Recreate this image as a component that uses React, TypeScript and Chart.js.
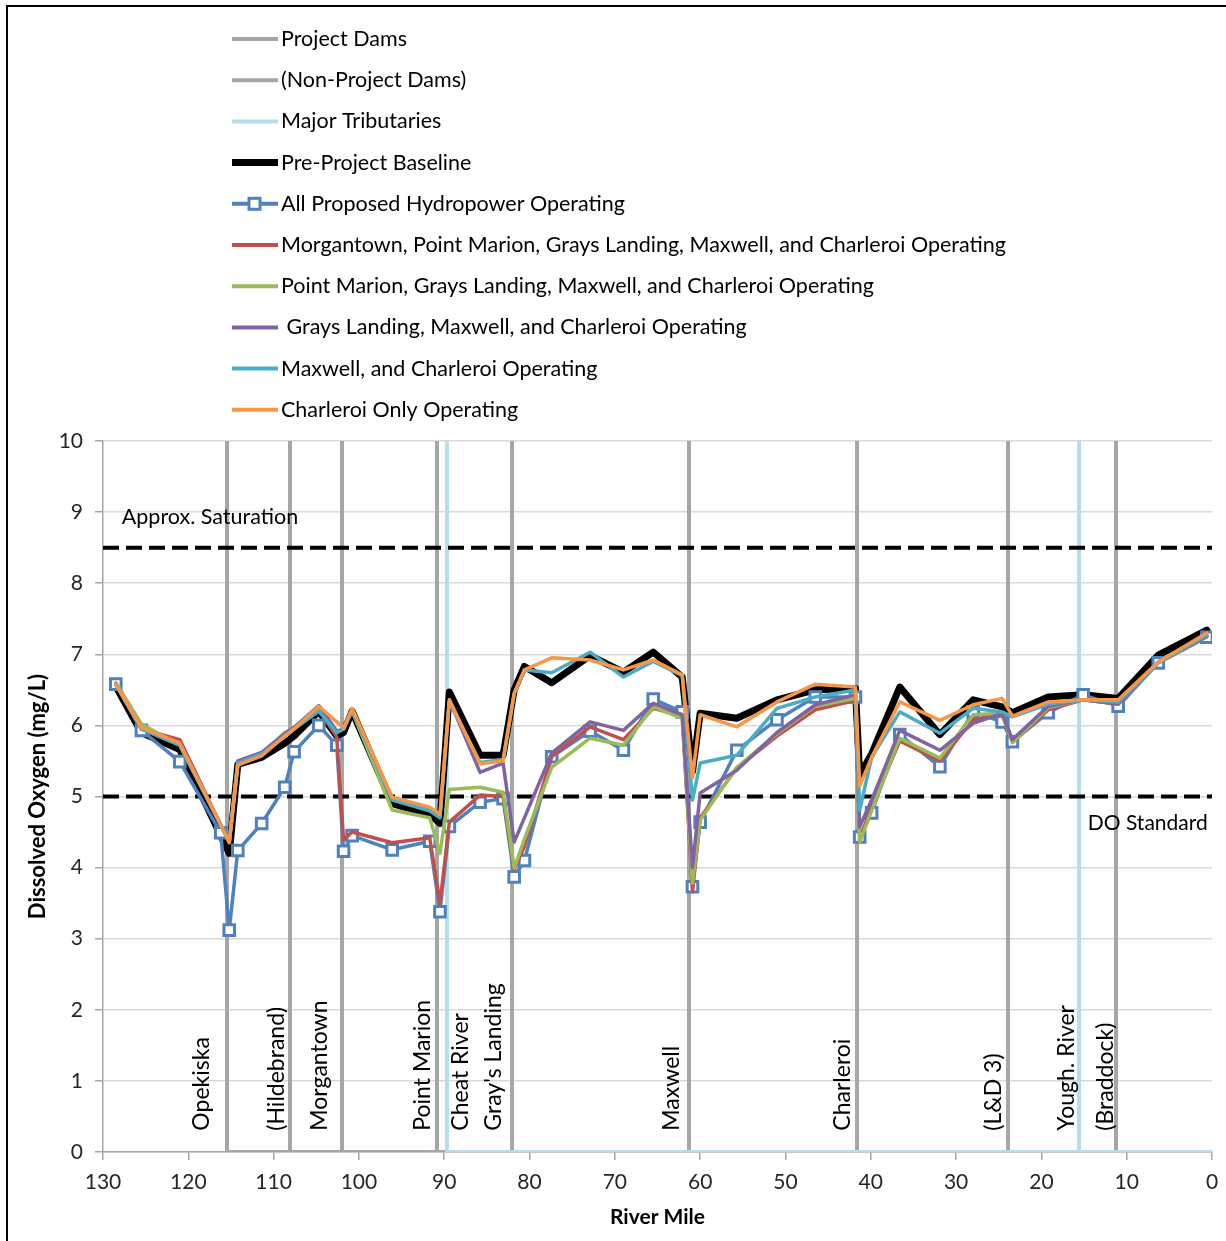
import React, { useEffect, useRef } from "react";
import { Chart, registerables } from "chart.js";

Chart.register(...registerables);

// ---------- DATA ----------
const riverMile = [128.5, 125.5, 121.0, 116.2, 115.2, 114.2, 111.4, 108.7, 107.6, 104.7, 102.6, 101.8, 100.8, 96.1, 91.7, 90.5, 89.4, 85.8, 83.1, 81.8, 80.6, 77.4, 72.9, 69.0, 65.5, 62.1, 60.9, 60.0, 55.7, 51.0, 46.5, 41.8, 41.3, 39.9, 36.6, 31.9, 28.0, 24.6, 23.4, 19.2, 15.1, 11.0, 6.3, 0.6];

const baseline = [6.55, 5.9, 5.66, 4.45, 4.2, 5.45, 5.55, 5.75, 5.85, 6.2, 5.85, 5.9, 6.2, 4.9, 4.75, 4.62, 6.47, 5.58, 5.58, 6.5, 6.83, 6.6, 6.98, 6.75, 7.03, 6.68, 5.35, 6.17, 6.1, 6.36, 6.5, 6.52, 5.3, 5.6, 6.54, 5.87, 6.36, 6.26, 6.18, 6.4, 6.43, 6.38, 6.99, 7.34];
const allProposed = [6.58, 5.93, 5.49, 4.49, 3.12, 4.24, 4.62, 5.13, 5.63, 6.0, 5.72, 4.23, 4.45, 4.25, 4.37, 3.38, 4.58, 4.92, 4.97, 3.87, 4.1, 5.56, 5.92, 5.65, 6.37, 6.19, 3.73, 4.64, 5.65, 6.08, 6.4, 6.4, 4.43, 4.77, 5.87, 5.42, 6.19, 6.05, 5.77, 6.18, 6.43, 6.27, 6.88, 7.24];
const morgantownOp = [6.58, 5.95, 5.8, 4.6, 4.36, 5.47, 5.6, 5.88, 5.97, 6.22, 5.84, 4.39, 4.5, 4.35, 4.42, 3.5, 4.64, 5.02, 5.0, 3.97, 4.3, 5.56, 5.98, 5.8, 6.24, 6.13, 3.66, 4.7, 5.4, 5.85, 6.22, 6.35, 4.4, 4.85, 5.78, 5.5, 6.08, 6.15, 5.76, 6.22, 6.36, 6.3, 6.88, 7.25];
const pointMarionOp = [6.6, 6.02, 5.72, 4.6, 4.36, 5.45, 5.6, 5.9, 5.97, 6.25, 5.9, 5.95, 6.2, 4.81, 4.7, 4.2, 5.1, 5.13, 5.06, 3.99, 4.4, 5.41, 5.82, 5.72, 6.26, 6.1, 3.78, 4.67, 5.41, 5.88, 6.27, 6.38, 4.36, 4.8, 5.82, 5.54, 6.15, 6.17, 5.76, 6.25, 6.36, 6.3, 6.88, 7.25];
const graysLandingOp = [6.58, 5.95, 5.73, 4.6, 4.36, 5.5, 5.62, 5.88, 5.97, 6.28, 5.92, 5.95, 6.22, 4.97, 4.8, 4.72, 6.36, 5.34, 5.47, 4.36, 4.7, 5.61, 6.05, 5.93, 6.31, 6.15, 4.0, 5.05, 5.37, 5.9, 6.29, 6.43, 4.57, 4.95, 5.93, 5.65, 6.03, 6.17, 5.8, 6.27, 6.36, 6.3, 6.89, 7.25];
const maxwellOp = [6.58, 5.95, 5.72, 4.6, 4.38, 5.47, 5.6, 5.85, 5.95, 6.2, 5.9, 5.95, 6.22, 4.95, 4.8, 4.7, 6.33, 5.48, 5.52, 6.45, 6.78, 6.74, 7.03, 6.68, 6.9, 6.7, 4.95, 5.47, 5.58, 6.24, 6.4, 6.5, 4.81, 5.55, 6.19, 5.89, 6.24, 6.19, 6.12, 6.3, 6.36, 6.33, 6.88, 7.27];
const charleroiOp = [6.58, 5.97, 5.75, 4.6, 4.35, 5.44, 5.57, 5.85, 5.95, 6.27, 6.05, 5.96, 6.24, 4.99, 4.85, 4.75, 6.36, 5.46, 5.5, 6.45, 6.78, 6.95, 6.92, 6.78, 6.92, 6.71, 5.26, 6.15, 5.98, 6.33, 6.58, 6.54, 5.15, 5.55, 6.33, 6.07, 6.29, 6.38, 6.13, 6.33, 6.36, 6.36, 6.89, 7.3];

const projectDamMiles = [115.46, 101.98, 90.85, 82.05, 61.31, 41.61];
const nonProjectDamMiles = [108.08, 23.91, 11.25];
const tributaryMiles = [89.68, 15.59];

const saturationLevel = 8.5;
const doStandard = 5;

const siteLabels = ["Opekiska", "(Hildebrand)", "Morgantown", "Point Marion", "Cheat River", "Gray's Landing", "Maxwell", "Charleroi", "(L&D 3)", "Yough. River", "(Braddock)"];
const siteLabelMiles = [118.5, 109.7, 104.6, 92.5, 88.1, 84.2, 63.3, 43.3, 25.6, 17.0, 12.5];

const legendLabels = [
  "Project Dams",
  "(Non-Project Dams)",
  "Major Tributaries",
  "Pre-Project Baseline",
  "All Proposed Hydropower Operating",
  "Morgantown, Point Marion, Grays Landing, Maxwell, and Charleroi Operating",
  "Point Marion, Grays Landing, Maxwell, and Charleroi Operating",
  " Grays Landing, Maxwell, and Charleroi Operating",
  "Maxwell, and Charleroi Operating",
  "Charleroi Only Operating",
];

const yTickValues = [0, 1, 2, 3, 4, 5, 6, 7, 8, 9, 10];
const xTickValues = [0, 10, 20, 30, 40, 50, 60, 70, 80, 90, 100, 110, 120, 130];

// ---------- STYLE ----------
const FONT = "Lato, sans-serif";
const GRAY = "#a6a6a6";
const TRIB = "#b7dee8";
const COLORS = {
  black: "#000000",
  blue: "#4f81bd",
  red: "#c0504d",
  green: "#9bbb59",
  purple: "#8064a2",
  cyan: "#4bacc6",
  orange: "#f79646",
};

function pts(ys: number[]) {
  return riverMile.map((x, i) => ({ x, y: ys[i] }));
}

function verticalPath(miles: number[], endMile?: number) {
  const out: { x: number; y: number }[] = [];
  miles.forEach((m) => {
    out.push({ x: m, y: 0 });
    out.push({ x: m, y: 10 });
    out.push({ x: m, y: 0 });
  });
  if (endMile !== undefined) out.push({ x: endMile, y: 0 });
  return out;
}

const overlayPlugin = {
  id: "overlay",
  beforeDraw(chart: any) {
    const ctx = chart.ctx;
    ctx.save();
    ctx.fillStyle = "#ffffff";
    ctx.fillRect(0, 0, chart.width, chart.height);
    ctx.fillStyle = "#000000";
    ctx.fillRect(6, 5, 2, chart.height);
    ctx.fillRect(6, 5, chart.width, 2);
    ctx.restore();
  },
  afterDatasetsDraw(chart: any) {
    const ctx = chart.ctx;
    const xs = chart.scales.x;
    const ys = chart.scales.y;
    ctx.save();
    // site labels
    ctx.fillStyle = "#000000";
    ctx.font = `23px ${FONT}`;
    siteLabels.forEach((t, i) => {
      const px = xs.getPixelForValue(siteLabelMiles[i]);
      const py = ys.getPixelForValue(0.3);
      ctx.save();
      ctx.translate(px, py);
      ctx.rotate(-Math.PI / 2);
      ctx.textAlign = "left";
      ctx.textBaseline = "middle";
      ctx.fillText(t, 0, 0);
      ctx.restore();
    });
    // annotations
    ctx.font = `21.5px ${FONT}`;
    ctx.textBaseline = "middle";
    ctx.textAlign = "left";
    ctx.fillText("Approx. Saturation", xs.getPixelForValue(127.8), ys.getPixelForValue(8.93));
    ctx.font = `21px ${FONT}`;
    ctx.textAlign = "right";
    ctx.fillText("DO Standard", xs.getPixelForValue(0.5), ys.getPixelForValue(4.63));

    // legend
    const lx0 = 232;
    const lx1 = 278;
    const ly0 = 39;
    const step = 41.2;
    const swatches = [
      { c: GRAY, w: 4 },
      { c: GRAY, w: 4 },
      { c: TRIB, w: 4 },
      { c: COLORS.black, w: 7 },
      { c: COLORS.blue, w: 4, marker: true },
      { c: COLORS.red, w: 4 },
      { c: COLORS.green, w: 4 },
      { c: COLORS.purple, w: 4 },
      { c: COLORS.cyan, w: 4 },
      { c: COLORS.orange, w: 4 },
    ];
    legendLabels.forEach((t, i) => {
      const y = ly0 + i * step;
      const s = swatches[i];
      ctx.strokeStyle = s.c;
      ctx.lineWidth = s.w;
      ctx.beginPath();
      ctx.moveTo(lx0, y);
      ctx.lineTo(lx1, y);
      ctx.stroke();
      if (s.marker) {
        ctx.fillStyle = "#ffffff";
        ctx.fillRect(lx0 + 17, y - 5.5, 11, 11);
        ctx.lineWidth = 3;
        ctx.strokeRect(lx0 + 17, y - 5.5, 11, 11);
      }
      ctx.fillStyle = "#000000";
      ctx.textAlign = "left";
      ctx.textBaseline = "middle";
      ctx.font = `21.5px ${FONT}`;
      ctx.fillText(t, 281, y);
    });
    ctx.restore();
  },
};

export default function App() {
  const ref = useRef<HTMLCanvasElement | null>(null);
  useEffect(() => {
    if (!ref.current) return;
    const lineCommon = {
      type: "line" as const,
      pointRadius: 0,
      borderJoinStyle: "round" as const,
      borderCapStyle: "round" as const,
      tension: 0,
      fill: false,
    };
    const datasets: any[] = [
      { ...lineCommon, label: "Project Dams", data: verticalPath(projectDamMiles), borderColor: GRAY, borderWidth: 4, borderJoinStyle: "miter", borderCapStyle: "butt" },
      { ...lineCommon, label: "(Non-Project Dams)", data: verticalPath(nonProjectDamMiles), borderColor: GRAY, borderWidth: 4, borderJoinStyle: "miter", borderCapStyle: "butt" },
      { ...lineCommon, label: "Major Tributaries", data: verticalPath(tributaryMiles, 0), borderColor: TRIB, borderWidth: 4, borderJoinStyle: "miter", borderCapStyle: "butt" },
      { ...lineCommon, label: "sat", data: [{ x: 130, y: saturationLevel }, { x: 0, y: saturationLevel }], borderColor: "#000", borderWidth: 4, borderDash: [16, 7], borderCapStyle: "butt" },
      { ...lineCommon, label: "std", data: [{ x: 130, y: doStandard }, { x: 0, y: doStandard }], borderColor: "#000", borderWidth: 4, borderDash: [16, 7], borderCapStyle: "butt" },
      { ...lineCommon, label: legendLabels[3], data: pts(baseline), borderColor: COLORS.black, borderWidth: 7 },
      {
        ...lineCommon,
        label: legendLabels[4],
        data: pts(allProposed),
        borderColor: COLORS.blue,
        borderWidth: 3.5,
        pointRadius: 7.5,
        pointStyle: "rect",
        pointBackgroundColor: "#ffffff",
        pointBorderColor: COLORS.blue,
        pointBorderWidth: 3,
      },
      { ...lineCommon, label: legendLabels[5], data: pts(morgantownOp), borderColor: COLORS.red, borderWidth: 3.5 },
      { ...lineCommon, label: legendLabels[6], data: pts(pointMarionOp), borderColor: COLORS.green, borderWidth: 3.5 },
      { ...lineCommon, label: legendLabels[7], data: pts(graysLandingOp), borderColor: COLORS.purple, borderWidth: 3.5 },
      { ...lineCommon, label: legendLabels[8], data: pts(maxwellOp), borderColor: COLORS.cyan, borderWidth: 3.5 },
      { ...lineCommon, label: legendLabels[9], data: pts(charleroiOp), borderColor: COLORS.orange, borderWidth: 3.5 },
    ];
    const n = datasets.length;
    datasets.forEach((d, i) => (d.order = n - i));

    const chart = new Chart(ref.current, {
      type: "line",
      data: { datasets },
      plugins: [overlayPlugin],
      options: {
        animation: false,
        responsive: false,
        devicePixelRatio: 1,
        parsing: false as any,
        layout: { padding: { left: 0, right: 14, top: 441, bottom: 0 } },
        plugins: { legend: { display: false }, tooltip: { enabled: false } },
        scales: {
          x: {
            type: "linear",
            reverse: true,
            min: 0,
            max: 130,
            afterBuildTicks: (s: any) => {
              s.ticks = xTickValues.map((v) => ({ value: v }));
            },
            afterFit: (s: any) => {
              s.height = 89;
            },
            ticks: { font: { size: 21, family: FONT }, color: "#262626", padding: 10, maxRotation: 0, autoSkip: false },
            grid: { drawOnChartArea: false, drawTicks: true, tickLength: 8, color: GRAY, lineWidth: 1.5 },
            border: { color: GRAY, width: 1.5 },
            title: { display: true, text: "River Mile", font: { size: 21, weight: "bold", family: FONT }, color: "#000", padding: { top: 0, bottom: 11 } },
          },
          y: {
            type: "linear",
            min: 0,
            max: 10,
            afterBuildTicks: (s: any) => {
              s.ticks = yTickValues.map((v) => ({ value: v }));
            },
            afterFit: (s: any) => {
              s.width = 103;
            },
            ticks: { font: { size: 21, family: FONT }, color: "#262626", padding: 12 },
            grid: { color: "#d9d9d9", lineWidth: 1.5, tickLength: 8, tickColor: GRAY },
            border: { color: GRAY, width: 1.5 },
            title: { display: true, text: "Dissolved Oxygen (mg/L)", font: { size: 22, weight: "bold", family: FONT }, color: "#000", padding: { top: 25, bottom: 0 } },
          },
        },
      } as any,
    });
    return () => chart.destroy();
  }, []);
  return (
    <div style={{ position: "absolute", left: 0, top: 0, width: 1226, height: 1241 }}>
      <canvas ref={ref} width={1226} height={1241} style={{ display: "block" }} />
    </div>
  );
}
